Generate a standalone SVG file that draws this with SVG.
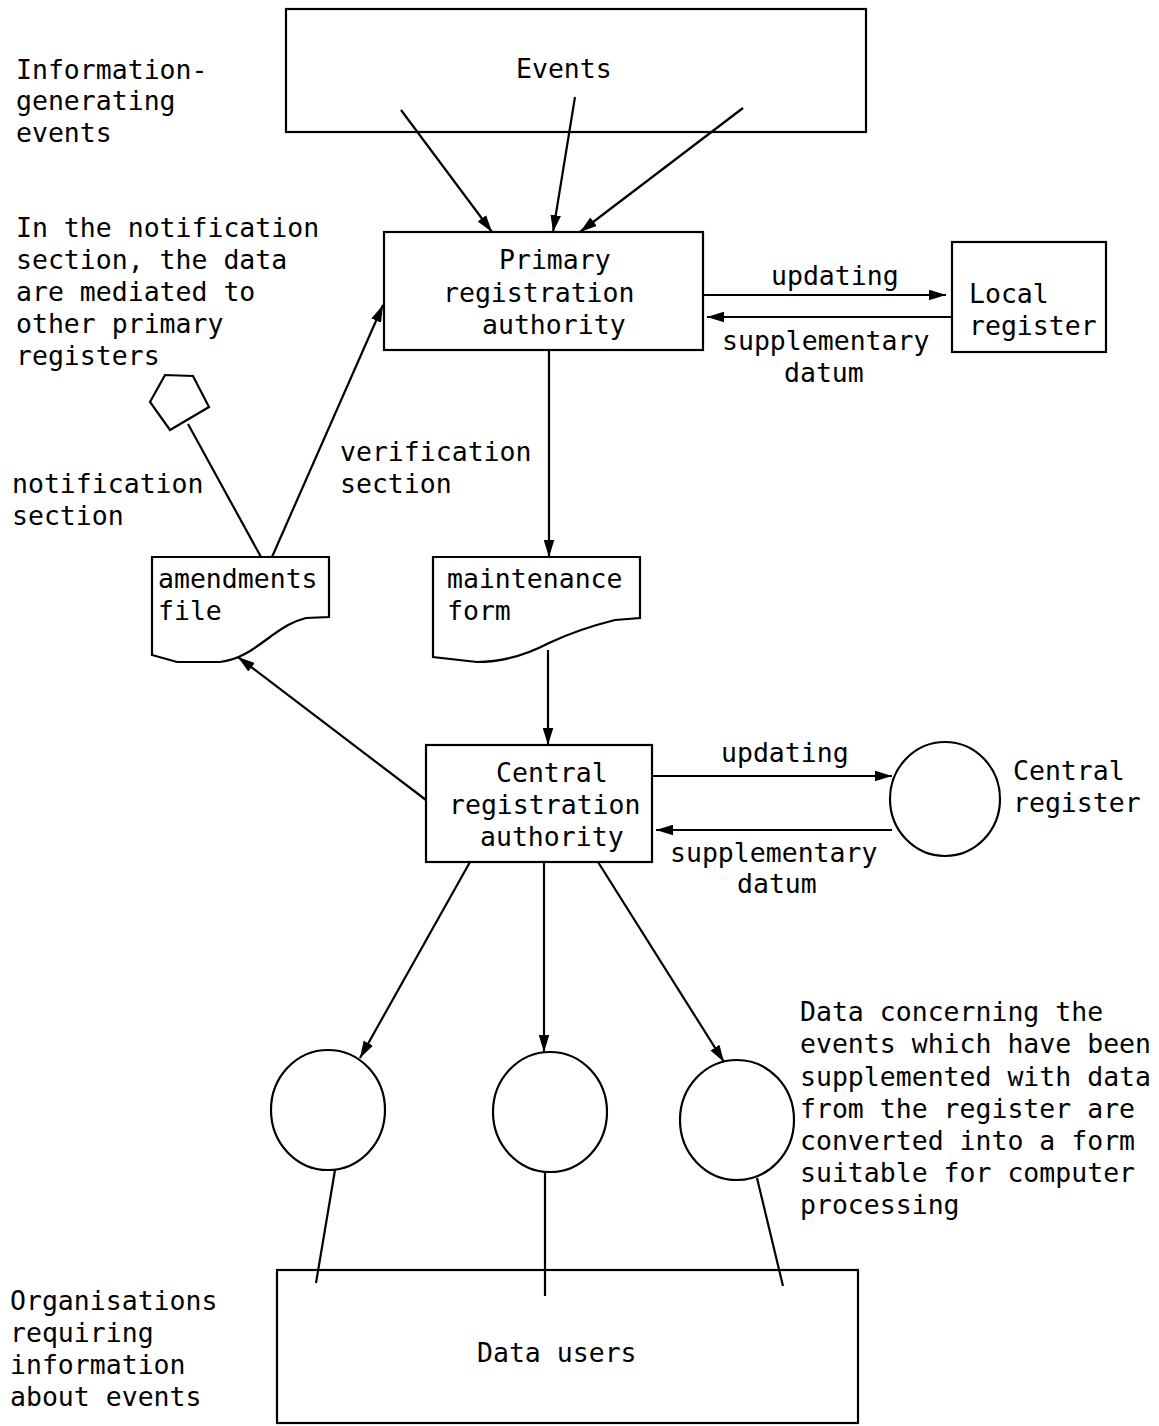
<svg xmlns="http://www.w3.org/2000/svg" width="1159" height="1426" viewBox="0 0 1159 1426">
<defs>
<marker id="ah" viewBox="0 0 16 10" refX="16" refY="5" markerWidth="17" markerHeight="11" markerUnits="userSpaceOnUse" orient="auto">
<path d="M0,0 L16,5 L0,10 Z" fill="#000"/>
</marker>
<style>
text{font-family:"DejaVu Sans Mono","Liberation Mono",monospace;font-size:26.5px;fill:#000}
.s{fill:#fff;stroke:#000;stroke-width:2.2}
.c line,.c path{stroke:#000;stroke-width:2.2;fill:none}
.a{marker-end:url(#ah)}
</style>
</defs>
<rect width="1159" height="1426" fill="#fff"/>

<g id="labels">
<text x="16" y="79">Information-</text>
<text x="16" y="110">generating</text>
<text x="16" y="142">events</text>
<text x="16" y="237">In the notification</text>
<text x="16" y="269">section, the data</text>
<text x="16" y="301">are mediated to</text>
<text x="16" y="333">other primary</text>
<text x="16" y="365">registers</text>
<text x="12" y="493">notification</text>
<text x="12" y="525">section</text>
<text x="340" y="461">verification</text>
<text x="340" y="493">section</text>
<text x="800" y="1021">Data concerning the</text>
<text x="800" y="1053">events which have been</text>
<text x="800" y="1086">supplemented with data</text>
<text x="800" y="1118">from the register are</text>
<text x="800" y="1150">converted into a form</text>
<text x="800" y="1182">suitable for computer</text>
<text x="800" y="1214">processing</text>
<text x="10" y="1310">Organisations</text>
<text x="10" y="1342">requiring</text>
<text x="10" y="1374">information</text>
<text x="10" y="1406">about events</text>
</g>

<g id="events">
<rect class="s" x="286" y="9" width="580" height="123"/>
<text x="516" y="78">Events</text>
</g>

<g id="primary">
<rect class="s" x="384" y="232" width="319" height="118"/>
<text x="499" y="269">Primary</text>
<text x="443" y="302">registration</text>
<text x="482" y="334">authority</text>
</g>

<g id="local">
<rect class="s" x="952" y="242" width="154" height="110"/>
<text x="969" y="303">Local</text>
<text x="969" y="335">register</text>
</g>

<g id="pentagon">
<path class="s" d="M150,402 L165,375 L193,376 L209,407 L170,430 Z"/>
</g>

<g id="amendments">
<path class="s" d="M152,557 L329,557 L329,617 L306,618 C290,622 280,630 270,637 C255,648 240,660 220,662 L177,662 L152,655 Z"/>
<text x="158" y="588">amendments</text>
<text x="158" y="620">file</text>
</g>

<g id="maintenance">
<path class="s" d="M433,557 L640,557 L640,618 L615,620 C595,625 570,633 549,643 C530,653 505,662 477,662 L433,657 Z"/>
<text x="447" y="588">maintenance</text>
<text x="447" y="620">form</text>
</g>

<g id="central">
<rect class="s" x="426" y="745" width="226" height="117"/>
<text x="496" y="782">Central</text>
<text x="449" y="814">registration</text>
<text x="480" y="846">authority</text>
</g>

<g id="central-register">
<ellipse class="s" cx="945" cy="799" rx="55" ry="57"/>
<text x="1013" y="780">Central</text>
<text x="1013" y="812">register</text>
</g>

<g id="out1"><ellipse class="s" cx="328" cy="1110" rx="57" ry="60"/></g>
<g id="out2"><ellipse class="s" cx="550" cy="1112" rx="57" ry="60"/></g>
<g id="out3"><ellipse class="s" cx="737" cy="1120" rx="57" ry="60"/></g>

<g id="data-users">
<rect class="s" x="277" y="1270" width="581" height="153"/>
<text x="477" y="1362">Data users</text>
</g>

<g class="c" id="connectors">
<line class="a" x1="401" y1="110" x2="492" y2="232"/>
<line class="a" x1="575" y1="97" x2="553" y2="232"/>
<line class="a" x1="743" y1="108" x2="580" y2="232"/>
<line class="a" x1="703" y1="295" x2="946" y2="295"/>
<line class="a" x1="952" y1="317" x2="707" y2="317"/>
<line class="a" x1="549" y1="350" x2="549" y2="557"/>
<line class="a" x1="272" y1="557" x2="383" y2="305"/>
<line x1="261" y1="557" x2="188" y2="424"/>
<line class="a" x1="548" y1="650" x2="548" y2="745"/>
<line class="a" x1="426" y1="800" x2="238" y2="657"/>
<line class="a" x1="652" y1="776" x2="892" y2="776"/>
<line class="a" x1="892" y1="830" x2="656" y2="830"/>
<line class="a" x1="470" y1="862" x2="360" y2="1058"/>
<line class="a" x1="544" y1="862" x2="544" y2="1052"/>
<line class="a" x1="598" y1="862" x2="724" y2="1062"/>
<line x1="335" y1="1170" x2="316" y2="1283"/>
<line x1="545" y1="1172" x2="545" y2="1296"/>
<line x1="757" y1="1178" x2="783" y2="1286"/>
<text x="771" y="285">updating</text>
<text x="722" y="350">supplementary</text>
<text x="784" y="382">datum</text>
<text x="721" y="762">updating</text>
<text x="670" y="862">supplementary</text>
<text x="737" y="893">datum</text>
</g>
</svg>
